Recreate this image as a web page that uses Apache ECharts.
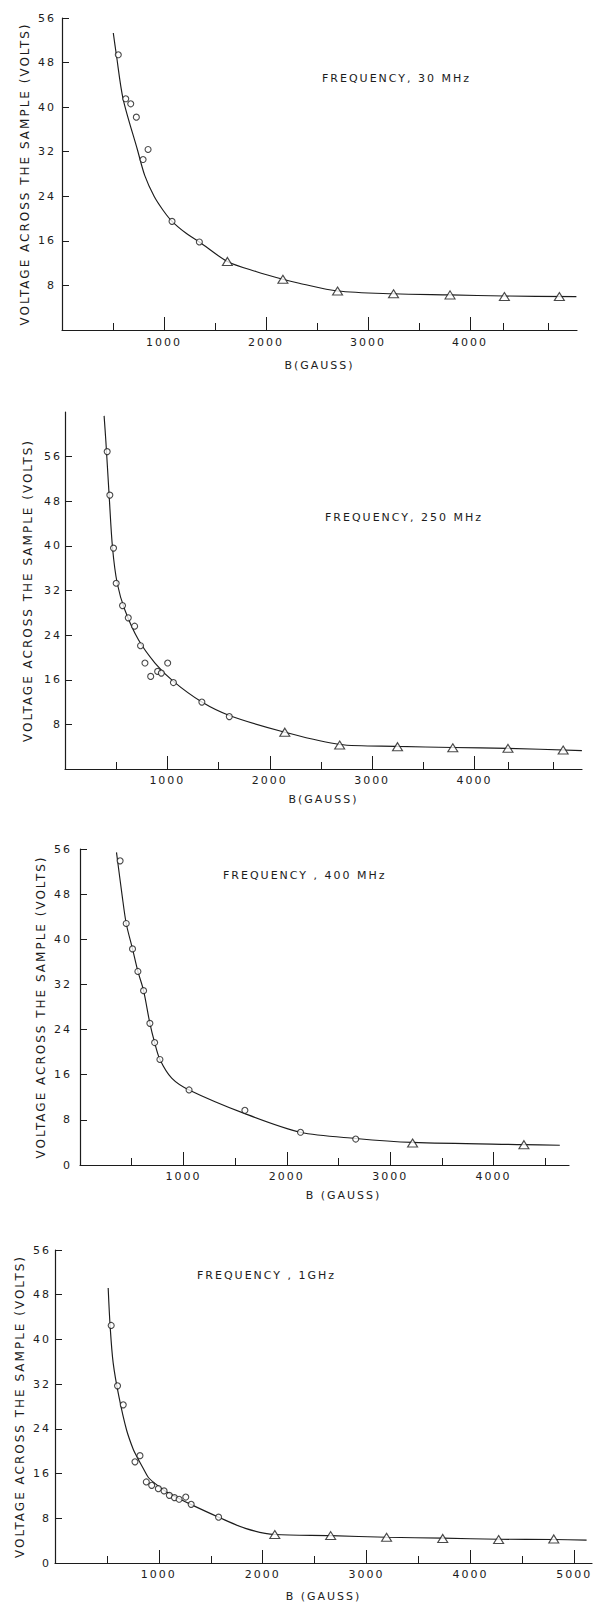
<!DOCTYPE html>
<html>
<head>
<meta charset="utf-8">
<title>Voltage across the sample vs B</title>
<script src="https://cdn.jsdelivr.net/npm/echarts@6/dist/echarts.min.js"></script>
<style>
html, body { margin: 0; padding: 0; background: #fff; }
#chart { width: 599px; height: 1606px; }
/* the original lettering is widely spaced */
#chart text { letter-spacing: 2px; }
</style>
</head>
<body>
<div id="chart"></div>
<script>
// ---- data: [B (gauss), V (volts)] ----
var circ30 = [[552,49.4],[625,41.5],[674,40.6],[729,38.2],[795,30.6],[844,32.4],[1079,19.5],[1347,15.8]];
var tri30 = [[1622,12.3],[2166,9.1],[2702,7.0],[3251,6.5],[3805,6.3],[4338,6.0],[4877,6.0]];
var fit30 = [[503,53.3],[533,49.4],[599,41.5],[739,32.4],[812,27.7],[903,24.0],[991,21.5],[1079,19.5],[1214,17.4],
  [1347,15.8],[1622,12.3],[1901,10.5],[2166,9.1],[2326,8.4],[2702,7.0],[3251,6.5],[3805,6.3],[4338,6.1],[5044,6.0]];

var circ250 = [[412,56.9],[438,49.1],[474,39.6],[500,33.3],[562,29.3],[618,27.1],[680,25.6],[738,22.1],[781,19.0],
  [837,16.6],[905,17.5],[941,17.2],[1003,19.0],[1059,15.5],[1337,12.0],[1605,9.4]];
var tri250 = [[2147,6.6],[2683,4.3],[3248,4.0],[3788,3.8],[4327,3.7],[4866,3.4]];
var fit250 = [[382,63.3],[399,58.8],[431,49.1],[464,39.7],[510,33.3],[585,28.5],[716,23.2],[879,19.0],[1059,15.7],
  [1337,12.0],[1605,9.6],[2147,6.6],[2683,4.4],[3248,4.05],[3788,3.85],[4327,3.7],[5049,3.3]];

var circ400 = [[388,53.9],[447,42.8],[508,38.3],[560,34.3],[615,30.9],[676,25.1],[722,21.7],[773,18.7],[1055,13.3],
  [1595,9.7],[2133,5.8],[2667,4.6]];
var tri400 = [[3217,3.9],[4294,3.6]];
var fit400 = [[353,55.4],[408,47.7],[447,42.8],[508,38.3],[560,34.3],[615,30.9],[676,25.1],[722,21.7],[773,18.7],
  [887,15.4],[1055,13.3],[1595,9.1],[2133,5.8],[2667,4.7],[3217,4.0],[4294,3.6],[4641,3.5]];

var circ1g = [[541,42.5],[602,31.7],[657,28.3],[770,18.1],[818,19.2],[879,14.5],[931,13.9],[995,13.3],[1050,12.9],
  [1101,12.1],[1150,11.7],[1195,11.4],[1259,11.8],[1311,10.5],[1575,8.2]];
var tri1g = [[2116,5.1],[2654,4.9],[3192,4.6],[3733,4.4],[4271,4.2],[4802,4.3]];
var fit1g = [[512,49.2],[531,42.3],[560,35.8],[615,29.8],[689,23.8],[754,20.3],[786,19.1],[850,16.9],[899,15.3],
  [965,14.2],[1060,12.9],[1188,11.6],[1317,10.4],[1575,8.2],[1833,6.2],[2116,5.1],[2654,4.9],[3192,4.6],
  [3733,4.45],[4271,4.25],[4802,4.2],[5118,4.1]];

// ---- ticks and labels ----
var yTicks = [8, 16, 24, 32, 40, 48, 56];
var yLabelsNoZero = [8, 16, 24, 32, 40, 48, 56];
var yLabelsZero = [0, 8, 16, 24, 32, 40, 48, 56];
var xMajor4 = [1000, 2000, 3000, 4000];
var xMajor5 = [1000, 2000, 3000, 4000, 5000];
var xMinorOdd = [500, 1500, 2500, 3500, 4330, 4770];
var xMinorEven = [500, 1500, 2500, 3500, 4500];
var titles = ['FREQUENCY, 30 MHz', 'FREQUENCY, 250 MHz', 'FREQUENCY , 400 MHz', 'FREQUENCY , 1GHz'];
var xNames = ['B(GAUSS)', 'B(GAUSS)', 'B (GAUSS)', 'B (GAUSS)'];
var yName = 'VOLTAGE ACROSS THE SAMPLE (VOLTS)';

var panels = [
  { circ: circ30, tri: tri30, fit: fit30, xMax: 5050, yMax: 56, yLabels: yLabelsNoZero, xMajor: xMajor4, xMinor: xMinorOdd },
  { circ: circ250, tri: tri250, fit: fit250, xMax: 5050, yMax: 64, yLabels: yLabelsNoZero, xMajor: xMajor4, xMinor: xMinorOdd },
  { circ: circ400, tri: tri400, fit: fit400, xMax: 4730, yMax: 56, yLabels: yLabelsZero, xMajor: xMajor4, xMinor: xMinorEven },
  { circ: circ1g, tri: tri1g, fit: fit1g, xMax: 5170, yMax: 56, yLabels: yLabelsZero, xMajor: xMajor5, xMinor: xMinorEven }
];

// placement of each panel on the page
var frames = [
  { left: 62, top: 18, width: 515, height: 312, tLeft: 322, tTop: 73, xGap: 30, xPad: 0, yGap: 31, yMargin: 6, xMargin: 7 },
  { left: 65, top: 412, width: 517, height: 357, tLeft: 325, tTop: 512, xGap: 25, xPad: 0, yGap: 31, yMargin: 3, xMargin: 6 },
  { left: 80, top: 849, width: 489, height: 316, tLeft: 223, tTop: 870, xGap: 25, xPad: 38, yGap: 29, yMargin: 8, xMargin: 6 },
  { left: 55, top: 1250, width: 537, height: 313, tLeft: 197, tTop: 1270, xGap: 28, xPad: 0, yGap: 28, yMargin: 4, xMargin: 6 }
];

var ink = '#1c1c1c';
var font = 'DejaVu Sans';
var axisLine = { show: true, onZero: false, lineStyle: { color: ink, width: 1.2 } };

var option = { backgroundColor: '#fff', animation: false, title: [], grid: [], xAxis: [], yAxis: [], series: [] };

panels.forEach(function (p, i) {
  var f = frames[i];
  option.title.push({
    text: titles[i], left: f.tLeft, top: f.tTop, padding: 0,
    textStyle: { fontFamily: font, fontSize: 11, fontWeight: 'normal', color: ink }
  });
  option.grid.push({ left: f.left, top: f.top, width: f.width, height: f.height });

  // main x axis: line, long ticks, labels
  option.xAxis.push({
    type: 'value', gridIndex: i, min: 0, max: p.xMax, position: 'bottom',
    axisLine: axisLine,
    axisTick: { show: true, inside: true, length: 13, customValues: p.xMajor, lineStyle: { color: ink, width: 1 } },
    axisLabel: { customValues: p.xMajor, margin: f.xMargin, color: ink, fontFamily: font, fontSize: 11,
      formatter: function (v) { return String(v); } },
    splitLine: { show: false },
    name: xNames[i], nameLocation: 'middle', nameGap: f.xGap,
    nameTextStyle: { color: ink, fontFamily: font, fontSize: 11, padding: [0, 0, 0, f.xPad] }
  });
  // second x axis only for the short half-way ticks
  option.xAxis.push({
    type: 'value', gridIndex: i, min: 0, max: p.xMax, position: 'bottom',
    axisLine: { show: false },
    axisTick: { show: true, inside: true, length: 7, customValues: p.xMinor, lineStyle: { color: ink, width: 1 } },
    axisLabel: { show: false },
    splitLine: { show: false }
  });
  option.yAxis.push({
    type: 'value', gridIndex: i, min: 0, max: p.yMax,
    axisLine: axisLine,
    axisTick: { show: true, inside: true, length: 7, customValues: yTicks, lineStyle: { color: ink, width: 1 } },
    axisLabel: { customValues: p.yLabels, margin: f.yMargin, color: ink, fontFamily: font, fontSize: 11 },
    splitLine: { show: false },
    name: yName, nameLocation: 'middle', nameRotate: 90, nameGap: f.yGap,
    nameTextStyle: { color: ink, fontFamily: font, fontSize: 12 }
  });

  option.series.push({
    type: 'line', xAxisIndex: i * 2, yAxisIndex: i, data: p.fit,
    showSymbol: false, symbol: 'none', smooth: 0.3,
    lineStyle: { color: ink, width: 1.15 }, z: 2
  });
  option.series.push({
    type: 'scatter', xAxisIndex: i * 2, yAxisIndex: i, data: p.circ,
    symbol: 'circle', symbolSize: 6,
    itemStyle: { color: '#fff', borderColor: ink, borderWidth: 1.1 }, z: 3
  });
  option.series.push({
    type: 'scatter', xAxisIndex: i * 2, yAxisIndex: i, data: p.tri,
    symbol: 'triangle', symbolSize: [10, 8],
    itemStyle: { color: '#fff', borderColor: ink, borderWidth: 1.1 }, z: 3
  });
});

var chart = echarts.init(document.getElementById('chart'), null, { renderer: 'svg' });
chart.setOption(option);
window.onresize = function () {
  chart.resize();
};
</script>
</body>
</html>
